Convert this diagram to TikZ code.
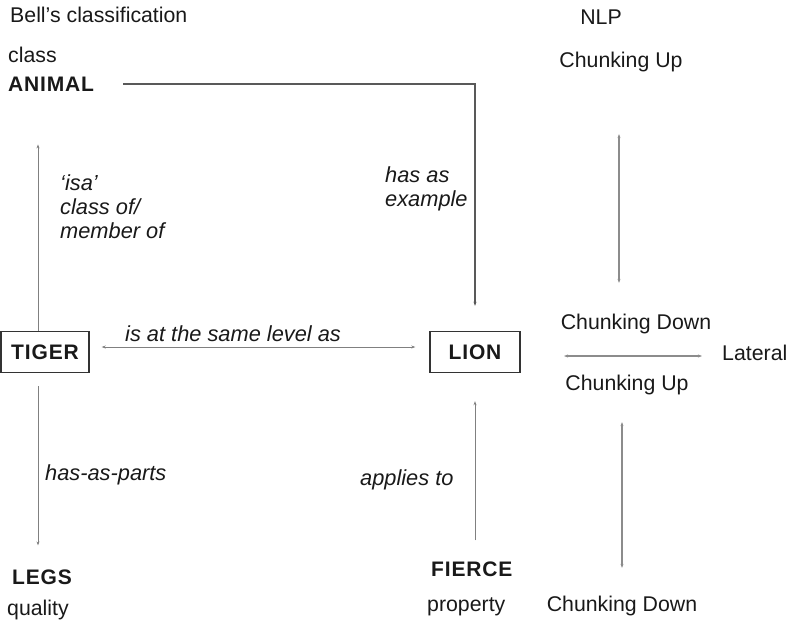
\documentclass[tikz,border=0pt]{standalone}
\usepackage{fontspec}
\setmainfont{Liberation Sans}
\usetikzlibrary{arrows.meta}
\begin{document}
\begin{tikzpicture}[x=1pt,y=-1pt,
  txt/.style={inner sep=0pt,font=\fontsize{21.3}{25}\selectfont,text=black!90},
  lbl/.style={txt,font=\fontsize{21.8}{24}\selectfont\itshape,align=left},
  term/.style={inner sep=0pt,font=\fontsize{21}{24}\selectfont\bfseries\addfontfeature{LetterSpace=4},text=black!90},
  boxed/.style={term,draw=black!80,line width=1.4pt,minimum width=88pt,minimum height=41pt},
  link/.style={draw=black!50,line width=1pt,-{Stealth[length=4pt,width=3pt]}},
  dbl/.style={draw=black!45,line width=1.2pt,{Stealth[length=4pt,width=3pt]}-{Stealth[length=4pt,width=3pt]}}]
  \useasboundingbox (0,0) rectangle (789,625);

  % headings
  \node[txt,anchor=west] (bell) at (10,15) {Bell's classification};
  \node[txt] (nlp) at (601,17) {NLP};

  % Bell's hierarchy
  \node[txt,anchor=west] (cls) at (8,55) {class};
  \node[term,anchor=west] (animal) at (8,84) {ANIMAL};
  \node[boxed] (tiger) at (45,352) {TIGER};
  \node[boxed,minimum width=90pt] (lion) at (475,352) {LION};
  \node[term,anchor=west] (legs) at (12,577) {LEGS};
  \node[txt,anchor=west] (quality) at (7,610) {quality};
  \node[term,anchor=west] (fierce) at (431,569) {FIERCE};
  \node[txt,anchor=west] (property) at (427,607) {property};

  % relation labels
  \node[lbl,anchor=north west] (isa) at (60,174) {`isa'\\class of/\\member of};
  \node[lbl,anchor=north west] (example) at (385,166) {has as\\example};
  \node[lbl,anchor=west] (same) at (125,334) {is at the same level as};
  \node[lbl,anchor=west] (parts) at (45,475) {has-as-parts};
  \node[lbl,anchor=west] (applies) at (360,480) {applies to};

  % NLP chunking column
  \node[txt] (cuTop) at (621,62) {Chunking Up};
  \node[txt] (cdMid) at (636,324) {Chunking Down};
  \node[txt] (cuMid) at (627,385) {Chunking Up};
  \node[txt] (cdBot) at (622,606) {Chunking Down};
  \node[txt,anchor=west] (lateral) at (722,353) {Lateral};
  \coordinate (latL) at (564,356);

  % hierarchy connectors
  \draw[link,draw=black!65,line width=1.3pt,shorten <=29pt,shorten >=25pt]
    (animal.east) -- (lion.north |- animal.east) -- (lion.north);
  \draw[link,shorten >=53pt] ([xshift=-7pt]tiger.north) -- ([xshift=-7pt]tiger.north |- animal.south);
  \draw[link,shorten <=13pt,shorten >=24pt] ([xshift=-7pt]tiger.south) -- ([xshift=-7pt]tiger.south |- legs.north);
  \draw[link,{Stealth[length=4pt,width=3pt]}-{Stealth[length=4pt,width=3pt]},shorten <=12pt,shorten >=14pt]
    ([yshift=5pt]tiger.east) -- ([yshift=5pt]lion.west);
  \draw[link,shorten <=21pt,shorten >=28pt] (fierce.north -| lion.south) -- (lion.south);

  % chunking connectors
  \draw[dbl,shorten <=62pt,shorten >=31pt] ([xshift=-2pt]cuTop.south) -- ([xshift=-2pt]cuTop.south |- cdMid.north);
  \draw[dbl,shorten <=27pt,shorten >=28pt] (cdBot.north |- cuMid.south) -- (cdBot.north);
  \draw[dbl,shorten >=20pt] (latL) -- (lateral.west |- latL);
\end{tikzpicture}
\end{document}
